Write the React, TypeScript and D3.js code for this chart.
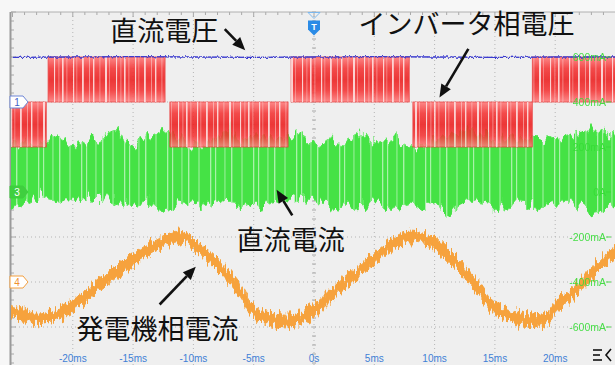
import React from "react";
import * as d3 from "d3";

const W = 615;
const H = 365;

// time axis (ms) and labels
const timeTicks = [-20, -15, -10, -5, 0, 5, 10, 15, 20];
const timeTickLabels = ["-20ms", "-15ms", "-10ms", "-5ms", "0s", "5ms", "10ms", "15ms", "20ms"];

// right axis (channel 3, mA)
const ch3Ticks = [600, 400, 200, 0, -200, -400, -600];
const ch3TickLabels = ["600mA", "400mA", "200mA", "0A", "-200mA", "-400mA", "-600mA"];
const mAPerDiv = 200;

// channel zero levels in screen divisions
const ch1Zero = 2;
const ch3Zero = 0;
const ch4Zero = -2;

// inverter phase voltage PWM blocks (ms, level in div from ch1 zero)
const pwmStart = [-25.3, -22.05, -11.95, -1.9, 8.2, 18.1];
const pwmEnd = [-22.2, -12.35, -2.15, 7.9, 18.1, 25.3];
const pwmLevel = [-1, 1, -1, 1, -1, 1];

// DC link voltage (div from ch1 zero)
const dcTime = [-25, -20, -15, -10, -5, 0, 5, 10, 15, 20, 25];
const dcVolt = [0.99, 1.0, 1.01, 1.0, 0.99, 1.0, 1.01, 1.0, 0.99, 1.0, 1.0];

// DC current envelope (mA)
const dcCurUpperT = [-25.2, -24.4, -23.1, -21.9, -21.1, -19.8, -19.0, -17.7, -16.3, -15.7, -14.8, -13.2, -11.9, -10.3, -9.0, -7.1, -6.1, -4.5, -2.8, -1.2, 0.5, 1.3, 2.6, 3.8, 5.1, 6.7, 8.0, 10.4, 12.9, 15.4, 17.1, 18.7, 20.4, 22.5, 23.7, 25.2];
const dcCurUpper = [204, 218, 227, 236, 236, 204, 218, 249, 280, 227, 218, 258, 271, 204, 204, 280, 227, 249, 236, 262, 204, 236, 227, 262, 227, 249, 204, 236, 280, 227, 249, 227, 240, 271, 271, 249];
const dcCurLowerT = [-25.2, -24.0, -22.7, -21.5, -20.2, -18.6, -16.9, -15.3, -13.6, -12.4, -11.1, -9.9, -8.2, -6.1, -5.3, -2.8, -1.2, 0.5, 3.0, 5.5, 7.1, 8.8, 10.4, 11.0, 12.9, 15.4, 17.1, 18.7, 21.2, 22.9, 25.2];
const dcCurLower = [-71, -53, -18, -40, -40, -27, -31, -62, -40, -93, -40, -62, -40, -53, -76, -40, -27, -40, -62, -40, -84, -53, -71, -98, -40, -62, -40, -62, -40, -84, -62];

// generator phase current (div from ch4 zero)
const genTime = [-25.3, -23.1, -21.1, -20.0, -17.7, -15.0, -12.8, -11.1, -10.0, -8.2, -6.1, -5.0, -2.8, -1.2, 0, 1.3, 3.0, 5.0, 6.8, 8.0, 9.9, 11.8, 13.4, 14.9, 17.2, 19.3, 20.1, 22.1, 23.8, 25.3];
const genCur = [-0.6, -0.82, -0.69, -0.53, -0.04, 0.49, 0.86, 1.0, 0.84, 0.44, -0.2, -0.66, -0.86, -0.82, -0.64, -0.31, 0.07, 0.51, 0.89, 1.0, 0.86, 0.42, -0.07, -0.56, -0.82, -0.78, -0.53, -0.09, 0.4, 0.71];
const genBand = 0.13;

// annotations: text position (ms, div) and arrow tail -> head
const notes = [
  { text: "直流電圧", t: -16.9, v: 3.36, a: [-7.4, 3.62, -5.7, 3.15] },
  { text: "インバータ相電圧", t: 3.7, v: 3.52, a: [12.8, 3.18, 10.4, 2.1] },
  { text: "直流電流", t: -6.4, v: -1.29, a: [-1.8, -0.52, -3.1, 0.05] },
  { text: "発電機相電流", t: -19.7, v: -3.27, a: [-12.8, -2.5, -9.8, -1.66] },
];

// stripe texture (px offsets within one repeat)
const redStripeX = [0, 4.5, 11, 14.5, 20, 27, 31, 37.5, 43, 47, 54, 58.5];
const redStripeW = [1.6, 0.8, 1.2, 0.7, 1.8, 0.9, 1.4, 0.8, 2.0, 0.7, 1.1, 0.8];
const greenStripeX = [0, 9.5, 16, 26.5, 38];
const greenStripeW = [1.2, 0.9, 1.4, 1.0, 1.3];

const x = d3.scaleLinear().domain([-25, 25]).range([12.5, 615.5]);
const y = d3.scaleLinear().domain([-4, 4]).range([372, 12]);
const mA = (v: number) => ch3Zero + v / mAPerDiv;

const Arrow = ({ a }: { a: number[] }) => {
  const x1 = x(a[0]), y1 = y(a[1]), x2 = x(a[2]), y2 = y(a[3]);
  const ang = Math.atan2(y2 - y1, x2 - x1);
  const L = 13, hw = 5.5;
  const bx = x2 - L * Math.cos(ang), by = y2 - L * Math.sin(ang);
  const px = -Math.sin(ang) * hw, py = Math.cos(ang) * hw;
  return (
    <g>
      <line x1={x1} y1={y1} x2={bx} y2={by} stroke="#111" strokeWidth={2.6} />
      <path d={`M${x2},${y2}L${bx + px},${by + py}L${bx - px},${by - py}Z`} fill="#111" />
    </g>
  );
};

const Marker = ({ v, label, fill, stroke, color }: any) => {
  const cy = y(v);
  return (
    <g>
      <path d={`M10,${cy - 6}h13l5,6l-5,6h-13Z`} fill={fill} stroke={stroke} strokeWidth={1} />
      <text x={17} y={cy + 3.5} fontSize={10} fontFamily="Liberation Sans, Arial, sans-serif" fill={color} textAnchor="middle">{label}</text>
    </g>
  );
};

export default function App() {
  const upperPts = dcCurUpperT.map((t, i) => [x(t), y(mA(dcCurUpper[i]))] as [number, number]);
  const lowerPts = dcCurLowerT.map((t, i) => [x(t), y(mA(dcCurLower[i]))] as [number, number]);
  const greenPath = d3.line()([...upperPts, ...lowerPts.reverse()]) + "Z";

  const genArea = d3.area<number>()
    .x((_, i) => x(genTime[i]))
    .y0((d) => y(ch4Zero + d - genBand))
    .y1((d) => y(ch4Zero + d + genBand))
    .curve(d3.curveCatmullRom)(genCur) || "";

  const dcLine = d3.line<number>()
    .x((_, i) => x(dcTime[i]))
    .y((d) => y(ch1Zero + d))(dcVolt) || "";

  const minorX = d3.range(-25, 25.01, 1);
  const minorY = d3.range(-4, 4.01, 0.2);
  const divs = d3.range(-3, 4, 1);

  return (
    <svg width={W} height={H} style={{ position: "absolute", left: 0, top: 0, background: "#f7f7f7" }}>
      <defs>
        <clipPath id="plot">
          <rect x={11} y={12} width={W - 11} height={H - 12} />
        </clipPath>
        <linearGradient id="redFill" x1="0" y1="0" x2="0" y2="1">
          <stop offset="0" stopColor="#ff7a7a" />
          <stop offset="0.25" stopColor="#f43434" />
          <stop offset="0.5" stopColor="#ec1e1e" />
          <stop offset="0.75" stopColor="#f43434" />
          <stop offset="1" stopColor="#ff7c7c" />
        </linearGradient>
        <pattern id="pwmStripes" patternUnits="userSpaceOnUse" width={62} height={H}>
          {redStripeX.map((sx, i) => (
            <rect key={i} x={sx} y={0} width={redStripeW[i]} height={H} fill="#ffdede" opacity={redStripeW[i] > 1 ? 0.9 : 0.55} />
          ))}
        </pattern>
        <pattern id="greenStripes" patternUnits="userSpaceOnUse" width={43} height={H}>
          {greenStripeX.map((sx, i) => (
            <rect key={i} x={sx} y={0} width={greenStripeW[i]} height={H} fill="#d4fad4" opacity={0.7} />
          ))}
        </pattern>
        <filter id="jagG" x={0} y={0} width={W} height={H} filterUnits="userSpaceOnUse">
          <feTurbulence type="fractalNoise" baseFrequency="0.2 0.045" numOctaves={2} seed={4} result="n" />
          <feColorMatrix in="n" type="matrix" values="0 0 0 0 0.5  0 1 0 0 0  0 0 0 0 0  0 0 0 0 1" result="m" />
          <feDisplacementMap in="SourceGraphic" in2="m" scale={26} xChannelSelector="R" yChannelSelector="G" />
        </filter>
        <filter id="jagO" x={0} y={0} width={W} height={H} filterUnits="userSpaceOnUse">
          <feTurbulence type="fractalNoise" baseFrequency="0.45 0.06" numOctaves={3} seed={9} result="n" />
          <feColorMatrix in="n" type="matrix" values="0 0 0 0 0.5  0 1 0 0 0  0 0 0 0 0  0 0 0 0 1" result="m" />
          <feDisplacementMap in="SourceGraphic" in2="m" scale={18} xChannelSelector="R" yChannelSelector="G" />
        </filter>
        <filter id="jagB" x={0} y={0} width={W} height={H} filterUnits="userSpaceOnUse">
          <feTurbulence type="fractalNoise" baseFrequency="0.6 0.2" numOctaves={1} seed={2} result="n" />
          <feColorMatrix in="n" type="matrix" values="0 0 0 0 0.5  0 1 0 0 0  0 0 0 0 0  0 0 0 0 1" result="m" />
          <feDisplacementMap in="SourceGraphic" in2="m" scale={4} xChannelSelector="R" yChannelSelector="G" />
        </filter>
      </defs>

      {/* plot background */}
      <rect x={11} y={12} width={W - 11} height={H - 12} fill="#efefef" />

      {/* grid */}
      <g stroke="#b5b5b5" strokeWidth={1} strokeDasharray="1 3">
        {timeTicks.map((t) => (
          <line key={"gx" + t} x1={x(t)} x2={x(t)} y1={12} y2={H} />
        ))}
        {divs.map((d) => (
          <line key={"gy" + d} x1={11} x2={W} y1={y(d)} y2={y(d)} />
        ))}
      </g>
      <g stroke="#a8a8a8" strokeWidth={1}>
        {minorX.map((t) => (
          <line key={"tx" + t} x1={x(t)} x2={x(t)} y1={12} y2={t % 5 === 0 ? 17 : 15} />
        ))}
        {minorY.map((d) => (
          <line key={"ly" + d} x1={11} x2={Math.abs(d % 1) < 0.01 ? 16 : 14} y1={y(d)} y2={y(d)} />
        ))}
        {minorY.map((d) => (
          <line key={"cy" + d} x1={x(0) - 2} x2={x(0) + 2} y1={y(d)} y2={y(d)} />
        ))}
        {minorX.map((t) => (
          <line key={"cx" + t} x1={x(t)} x2={x(t)} y1={y(0) - 2} y2={y(0) + 2} />
        ))}
      </g>
      <line x1={11} x2={W} y1={12} y2={12} stroke="#b0b0b0" strokeWidth={1} />
      <line x1={10.5} x2={10.5} y1={12} y2={H} stroke="#9a9a9a" strokeWidth={2} />

      <g clipPath="url(#plot)">
        {/* DC current (ch3) */}
        <g filter="url(#jagG)">
          <path d={greenPath} fill="#45e245" stroke="#62ea62" strokeWidth={1} />
          <path d={greenPath} fill="url(#greenStripes)" />
        </g>

        {/* inverter phase voltage (ch1) */}
        <g opacity={0.88}>
          {pwmStart.map((s, i) => {
            const y0 = y(ch1Zero + Math.max(0, pwmLevel[i]));
            const y1 = y(ch1Zero + Math.min(0, pwmLevel[i]));
            return (
              <g key={"pwm" + i}>
                <rect x={x(s)} y={y0} width={x(pwmEnd[i]) - x(s)} height={y1 - y0} fill="url(#redFill)" stroke="#e83535" strokeWidth={0.8} />
                <rect x={x(s)} y={y0} width={x(pwmEnd[i]) - x(s)} height={y1 - y0} fill="url(#pwmStripes)" />
              </g>
            );
          })}
        </g>

        {/* DC voltage */}
        <path d={dcLine} fill="none" stroke="#3a3ad0" strokeWidth={1.3} filter="url(#jagB)" />

        {/* generator phase current (ch4) */}
        <path d={genArea} fill="#f6a23c" stroke="#f6a540" strokeWidth={1} filter="url(#jagO)" />
      </g>

      {/* right axis labels */}
      <g fontFamily="Liberation Sans Narrow, Liberation Sans, Arial, sans-serif" fontSize={10.5} fill="#36dc36" opacity={0.9}>
        {ch3Ticks.map((v, i) => (
          <g key={"r" + v}>
            <text x={606} y={y(mA(v)) + 3.5} textAnchor="end">{ch3TickLabels[i]}</text>
            <line x1={606} x2={611} y1={y(mA(v))} y2={y(mA(v))} stroke="#36dc36" strokeWidth={1} />
          </g>
        ))}
      </g>

      {/* channel markers */}
      <Marker v={ch1Zero} label="1" fill="#ffffff" stroke="#6f86d6" color="#3f5fc8" />
      <Marker v={ch3Zero} label="3" fill="#3fcf3f" stroke="#3fcf3f" color="#ffffff" />
      <Marker v={ch4Zero} label="4" fill="#ffffff" stroke="#f4a040" color="#f09030" />

      {/* trigger marker */}
      <path d={`M${x(0) - 6},12.5h12l-6,6Z`} fill="none" stroke="#7db8ee" strokeWidth={1} />
      <path d={`M${x(0) - 6},20.5h12v9l-6,6l-6,-6Z`} fill="#2b8be6" />
      <text x={x(0)} y={30} textAnchor="middle" fontSize={9} fontWeight="bold" fill="#fff" fontFamily="Liberation Sans, Arial, sans-serif">T</text>

      {/* time labels */}
      <g fontFamily="Liberation Sans Narrow, Liberation Sans, Arial, sans-serif" fontSize={10} fill="#3f7fd6" textAnchor="middle">
        {timeTicks.map((t, i) => (
          <text key={"xl" + t} x={x(t)} y={362}>{timeTickLabels[i]}</text>
        ))}
      </g>

      {/* menu icon */}
      <g stroke="#111" strokeWidth={1.6}>
        <line x1={593} x2={602} y1={350} y2={350} />
        <line x1={593} x2={600} y1={355} y2={355} />
        <line x1={593} x2={602} y1={360} y2={360} />
        <polyline points="611,349 606,355 611,361" fill="none" />
      </g>

      {/* annotations */}
      {notes.map((n) => (
        <g key={n.text}>
          <text x={x(n.t)} y={y(n.v)} fontSize={27} fill="#111" fontFamily="Noto Sans CJK JP, sans-serif">{n.text}</text>
          <Arrow a={n.a} />
        </g>
      ))}
    </svg>
  );
}
